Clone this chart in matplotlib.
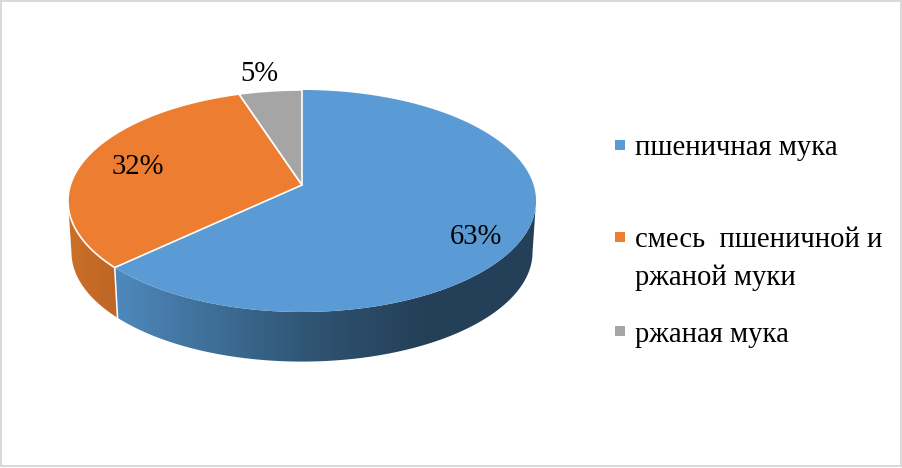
import numpy as np
import matplotlib
matplotlib.use('Agg')
import matplotlib.pyplot as plt
from matplotlib.colors import LinearSegmentedColormap
from matplotlib.patches import Polygon, Rectangle

labels = ['пшеничная мука', 'смесь  пшеничной и\nржаной муки', 'ржаная мука']
values = [63, 32, 5]
colors = ['#5b9bd5', '#ed7d31', '#a5a5a5']

plt.rcParams['font.family'] = ['Liberation Serif', 'DejaVu Serif']
FS = 20.6

# pie geometry in pixels, the tilt has some perspective so apex is off centre
CX, CY = 302, 185
A, B, K = 231.6, 108.7, 0.144
BOT_Y, BOT_S = 236.5, 0.985
# angle where the rim reaches its widest point, the side wall starts there
T_EXT = np.arccos(-K)


def rim(theta, cy=CY, s=1.0):
    u, v = np.sin(theta), np.cos(theta)
    w = 1 + K * v
    return np.column_stack([CX + s * A * u / w, cy - s * B * v / w])


def side_poly(t0, t1):
    t = np.linspace(t0, t1, 200)
    return np.vstack([rim(t), rim(t[::-1], BOT_Y, BOT_S)])


def gradient_fill(ax, pts, stops, x0, x1):
    cmap = LinearSegmentedColormap.from_list('side', stops)
    grad = np.linspace(0, 1, 256).reshape(1, -1)
    im = ax.imshow(grad, cmap=cmap, extent=[x0, x1, 468, 0], aspect='auto', zorder=2)
    im.set_clip_path(Polygon(pts, transform=ax.transData))


fig = plt.figure(figsize=(9.02, 4.68), dpi=100)
ax = fig.add_axes([0, 0, 1, 1])

edges = np.cumsum([0] + values) / sum(values) * 2 * np.pi

# sides: blue runs from the right edge to the orange slice, orange to the left edge
gradient_fill(ax, side_poly(T_EXT, edges[1]),
              [(0, '#4f89bd'), (0.45, '#305675'), (0.72, '#254059'), (1, '#243f58')], 113, 537)
gradient_fill(ax, side_poly(edges[1], 2 * np.pi - T_EXT),
              [(0, '#cc7028'), (1, '#be6526')], 66, 120)
seam = np.vstack([rim(edges[1:2]), rim(edges[1:2], BOT_Y, BOT_S)])
ax.plot(seam[:, 0], seam[:, 1], color='white', lw=1.1, zorder=3)

# top faces
for i in range(len(values)):
    t = np.linspace(edges[i], edges[i + 1], 300)
    pts = np.vstack([[CX, CY], rim(t)])
    ec = 'none' if i == 0 else 'white'
    ax.add_patch(Polygon(pts, closed=True, fc=colors[i], ec=ec, lw=1.2, zorder=4 + (i > 0)))

# percent labels
pct_x = [476, 138, 259]
pct_y = [237, 167, 74]
for v, x, y in zip(values, pct_x, pct_y):
    ax.text(x, y, f'{v}%', fontsize=FS, ha='center', va='center', color='black', zorder=6)

# legend
leg_y = [145, 237, 331]
base_y = [155, 247, 342]
for lab, c, y, by in zip(labels, colors, leg_y, base_y):
    ax.add_patch(Rectangle((615, y - 5), 10, 10, fc=c, ec='none', zorder=6))
    ax.text(635, by, lab.split('\n')[0], fontsize=FS, ha='left', va='baseline', color='black')
    if '\n' in lab:
        ax.text(635, by + 38, lab.split('\n')[1], fontsize=FS, ha='left', va='baseline', color='black')

# grey frame of the picture
ax.add_patch(Rectangle((1, 1), 899.5, 465, fc='none', ec='#d9d9d9', lw=1.44, zorder=7))

ax.set_xlim(0, 902)
ax.set_ylim(468, 0)
ax.axis('off')
fig.savefig('out.png', dpi=100)
